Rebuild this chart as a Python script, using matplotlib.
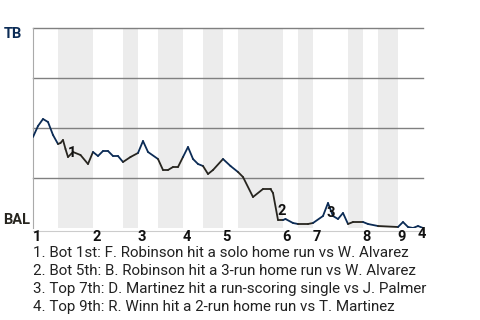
import matplotlib
matplotlib.use("Agg")
import matplotlib.pyplot as plt
from matplotlib.collections import LineCollection

# ==============================
# DATOS
# ==============================
# indice de jugada y probabilidad de victoria de TB
plays = [0, 2, 4, 6, 8, 10, 11, 12, 13, 14, 16, 19, 22, 24, 26, 28, 30, 32, 34, 36,
         39, 42, 44, 46, 50, 52, 54, 56, 58, 60, 62, 64, 66, 68, 70, 72, 76, 79, 82,
         84, 88, 92, 95, 96, 98, 100, 101, 104, 106, 110, 112, 116, 118, 120, 122,
         124, 126, 128, 132, 134, 138, 146, 148, 150, 152, 154, 156]
tb_wp = [0.455, 0.51, 0.545, 0.53, 0.465, 0.42, 0.425, 0.44, 0.395, 0.355, 0.38,
         0.365, 0.32, 0.38, 0.36, 0.385, 0.385, 0.36, 0.36, 0.33, 0.355, 0.375,
         0.435, 0.38, 0.345, 0.29, 0.29, 0.305, 0.305, 0.355, 0.405, 0.345, 0.32,
         0.31, 0.27, 0.29, 0.345, 0.31, 0.28, 0.255, 0.155, 0.195, 0.195, 0.175,
         0.04, 0.04, 0.045, 0.025, 0.02, 0.02, 0.025, 0.06, 0.125, 0.06, 0.045,
         0.075, 0.02, 0.03, 0.03, 0.02, 0.01, 0.005, 0.03, 0.005, 0.0, 0.01, 0.0]

# inicio de cada media entrada (alta, baja, alta, baja...) y fin del juego
half_starts = [0, 10, 24, 36, 42, 50, 60, 68, 76, 82, 100, 106, 112, 126, 132, 138, 146]
game_end = 156
innings = ["1", "2", "3", "4", "5", "6", "7", "8", "9"]

event_plays = [14, 98, 118, 156]
event_labels = ["1", "2", "3", "4"]
events = [
    "1. Bot 1st: F. Robinson hit a solo home run vs W. Alvarez",
    "2. Bot 5th: B. Robinson hit a 3-run home run vs W. Alvarez",
    "3. Top 7th: D. Martinez hit a run-scoring single vs J. Palmer",
    "4. Top 9th: R. Winn hit a 2-run home run vs T. Martinez",
]

TB_COLOR = "#0c2c56"
BAL_COLOR = "#27251f"

plt.rcParams['font.family'] = ['Roboto', 'DejaVu Sans']

fig = plt.figure(figsize=(4.8, 3.2), dpi=100)
ax = fig.add_axes([33 / 480, 92 / 320, 390 / 480, 200 / 320])
ax.set_xlim(0, game_end)
ax.set_ylim(0, 1)

# bandas grises en las bajas de cada entrada
bounds = half_starts + [game_end]
for i in range(1, len(half_starts), 2):
    ax.axvspan(bounds[i], bounds[i + 1], color="#ececec", lw=0, zorder=0)

for yv in [0.25, 0.5, 0.75, 1.0]:
    ax.axhline(yv, color="#808080", lw=1, zorder=1, clip_on=False)

# linea coloreada por media entrada
segs, cols = [], []
for k in range(len(plays) - 1):
    mid = (plays[k] + plays[k + 1]) / 2
    half = max(i for i, s in enumerate(half_starts) if s <= mid)
    segs.append([(plays[k], tb_wp[k]), (plays[k + 1], tb_wp[k + 1])])
    cols.append(TB_COLOR if half % 2 == 0 else BAL_COLOR)
ax.add_collection(LineCollection(segs, colors=cols, linewidths=1.3, zorder=3,
                                 capstyle="round", joinstyle="round"))

# etiquetas de eventos
offsets = [(4, 4), (4, 9), (3, -10), (-1, -6)]
for p, lab, off in zip(event_plays, event_labels, offsets):
    ax.annotate(lab, (p, tb_wp[plays.index(p)]), xytext=off, textcoords="offset pixels",
                ha="center", va="center", fontsize=10.5, fontweight="bold",
                color="#111111", zorder=4, annotation_clip=False)

for s in ["top", "right"]:
    ax.spines[s].set_visible(False)
ax.spines["left"].set_color("#aaaaaa")
ax.spines["bottom"].set_color("#cccccc")
ax.spines["bottom"].set_position(("outward", 2))
ax.set_yticks([])
ax.set_xticks([])

# numeros de entrada
for inn, x0 in zip(innings, half_starts[::2]):
    ax.text(x0 + 1.5, -0.045, inn, ha="center", va="center", fontsize=10.5,
            fontweight="bold", color="#111111", transform=ax.transData)

fig.text(4 / 480, 1 - 34 / 320, "TB", fontsize=10.5, fontweight="bold",
         color=TB_COLOR, va="center", ha="left")
fig.text(3 / 480, 1 - 220 / 320, "BAL", fontsize=10.5, fontweight="bold",
         color=BAL_COLOR, va="center", ha="left")

for i, line in enumerate(events):
    fig.text(33 / 480, 1 - (253 + 18 * i) / 320, line, fontsize=10.9,
             color="#222222", va="center", ha="left")

fig.savefig("out.png", dpi=100)
